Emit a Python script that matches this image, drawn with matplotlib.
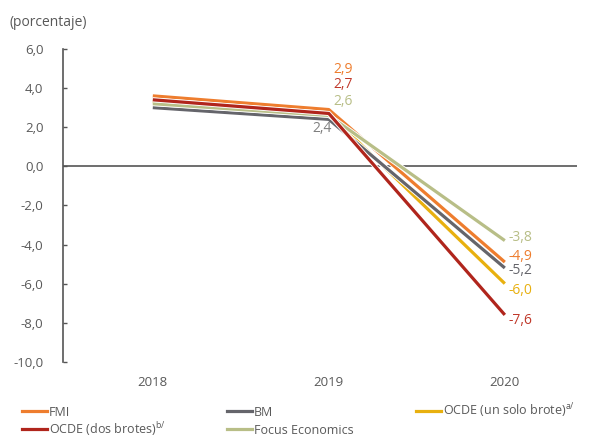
import matplotlib
matplotlib.use("Agg")
import matplotlib.pyplot as plt
import matplotlib.patheffects as pe
from matplotlib.lines import Line2D

plt.rcParams['font.family'] = ['Open Sans', 'DejaVu Sans']
plt.rcParams['mathtext.fontset'] = 'custom'
plt.rcParams['mathtext.rm'] = 'Open Sans'

# datos
years = ["2018", "2019", "2020"]
fmi = [3.6, 2.9, -4.9]
bm = [3.0, 2.4, -5.2]
ocde_uno = [3.3, 2.7, -6.0]
ocde_dos = [3.4, 2.7, -7.6]
focus = [3.2, 2.6, -3.8]

c_fmi, c_bm, c_uno, c_dos, c_focus = "#EE7D2E", "#65656B", "#E8B00F", "#B0251C", "#B8BE87"

series = [
    ("OCDE (un solo brote)$^{\\mathrm{a/}}$", ocde_uno, c_uno),
    ("BM", bm, c_bm),
    ("FMI", fmi, c_fmi),
    ("Focus Economics", focus, c_focus),
    ("OCDE (dos brotes)$^{\\mathrm{b/}}$", ocde_dos, c_dos),
]
label_color = "#595959"

W, H = 593, 437
fig = plt.figure(figsize=(W / 100, H / 100), dpi=100)
ax = fig.add_axes([0.106, 0.172, 0.867, 0.716])

x = range(len(years))
for name, vals, col in series:
    ax.plot(x, vals, color=col, lw=2.3, solid_capstyle='butt',
            path_effects=[pe.Stroke(linewidth=3.6, foreground='white'), pe.Normal()])

ax.set_xlim(-0.511, 2.41)
ax.set_ylim(-10, 6)
ax.set_yticks(range(-10, 7, 2))
ax.set_yticklabels([f"{v:.1f}".replace(".", ",") for v in range(-10, 7, 2)])
ax.set_xticks(list(x))
ax.set_xticklabels(years)
ax.tick_params(axis='x', length=0, pad=10, labelsize=9.5, labelcolor=label_color)
ax.tick_params(axis='y', direction='in', length=3, width=1, color='#555555',
               pad=14, labelsize=9.5, labelcolor=label_color)
for s in ['top', 'right', 'bottom']:
    ax.spines[s].set_visible(False)
ax.spines['left'].set_color('#555555')
ax.spines['left'].set_linewidth(1.2)
ax.axhline(0, color='#555555', lw=1.2, zorder=0)

# etiquetas 2019
ax.text(1.08, 4.96, "2,9", color=c_fmi, fontsize=10, ha='center', va='center')
ax.text(1.08, 4.19, "2,7", color="#C0392B", fontsize=10, ha='center', va='center')
ax.text(1.08, 3.32, "2,6", color=c_focus, fontsize=10, ha='center', va='center')
ax.text(0.96, 1.94, "2,4", color="#7f7f7f", fontsize=10, ha='center', va='center')

# etiquetas 2020
ax.text(2.02, -3.63, "-3,8", color=c_focus, fontsize=10, va='center')
ax.text(2.02, -4.6, "-4,9", color=c_fmi, fontsize=10, va='center')
ax.text(2.02, -5.32, "-5,2", color=c_bm, fontsize=10, va='center')
ax.text(2.02, -6.34, "-6,0", color=c_uno, fontsize=10, va='center')
ax.text(2.02, -7.87, "-7,6", color="#C0392B", fontsize=10, va='center')

fig.text(10 / W, 1 - 22 / H, "(porcentaje)", color=label_color, fontsize=10, va='center')

# leyenda (posiciones en pixeles)
legend_items = [
    ("FMI", c_fmi, 22, 411),
    ("OCDE (dos brotes)$^{\\mathrm{b/}}$", c_dos, 22, 429),
    ("BM", c_bm, 227, 411),
    ("Focus Economics", c_focus, 227, 429),
    ("OCDE (un solo brote)$^{\\mathrm{a/}}$", c_uno, 416, 411),
]
for name, col, px, py in legend_items:
    yf = 1 - py / H
    fig.add_artist(Line2D([px / W, (px + 25) / W], [yf, yf], color=col, lw=2.3,
                          transform=fig.transFigure))
    fig.text((px + 27) / W, 1 - (py + 4.5) / H, name, color=label_color,
             fontsize=9, va='baseline')

fig.savefig("out.png", dpi=100)
